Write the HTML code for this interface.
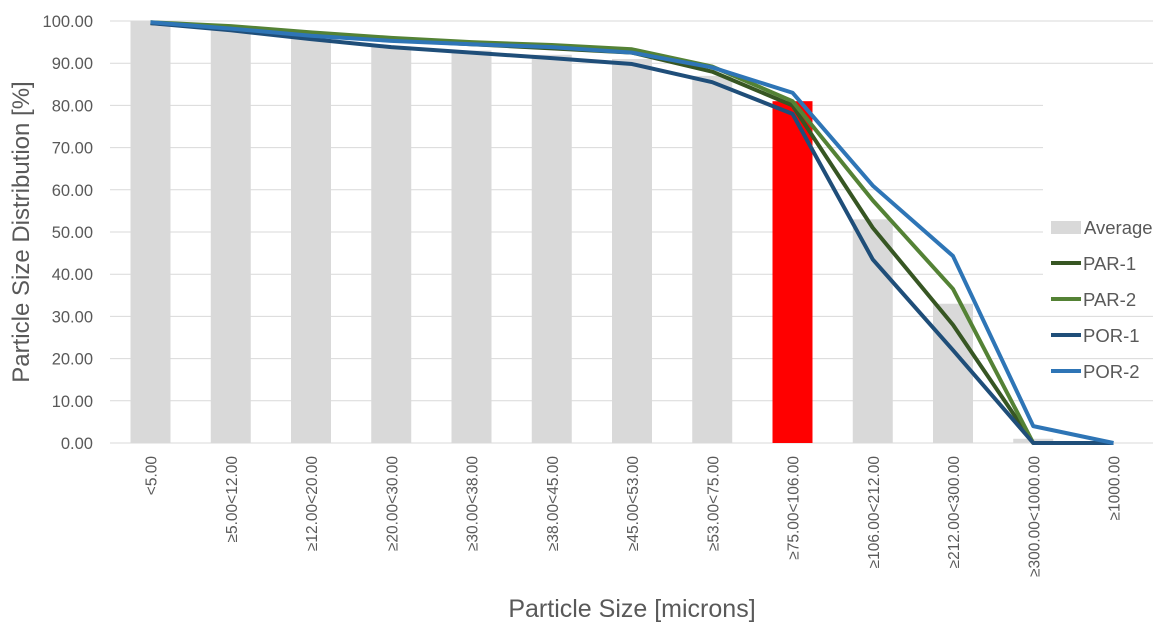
<!DOCTYPE html><html><head><meta charset="utf-8"><style>body{margin:0;background:#fff}</style></head><body>
<svg width="1164" height="623" xmlns="http://www.w3.org/2000/svg" font-family="Liberation Sans, sans-serif" fill="#595959">
</svg>
<script>
const s=document.querySelector('svg'),ns='http://www.w3.org/2000/svg';
function el(t,a,txt){const e=document.createElementNS(ns,t);for(const k in a)e.setAttribute(k,a[k]);if(txt!=null)e.textContent=txt;s.appendChild(e);return e;}
const Y=v=>443-v*4.22, X=i=>150.5+i*80.25;
for(let v=0;v<=100;v+=10){el('line',{x1:110,x2:(v>=40&&v<=80)?1043:1153,y1:Y(v),y2:Y(v),stroke:'#d9d9d9','stroke-width':1});
el('text',{x:93,y:Y(v)+6,'text-anchor':'end','font-size':16.5},v.toFixed(2));}
const avg=[100,98,96,94,93,92,91,87,81,53,33,1,0];
avg.forEach((v,i)=>el('rect',{x:X(i)-20,y:Y(v),width:40,height:v*4.22,fill:i==8?'#ff0000':'#d9d9d9'}));
const ser=[['#375623',[99.5,98.5,97,95.5,94.5,93.5,92.5,88,80,51,28,0,0]],
['#548235',[99.7,98.8,97.3,96,95,94.3,93.3,89.2,81,57.5,36.5,0,0]],
['#1f4e79',[99.5,97.8,95.7,93.8,92.5,91.2,89.8,85.5,78,43.5,22,0,0]],
['#2e75b6',[99.7,98.2,96.5,95.3,94.5,93.8,92.5,89,83,61,44.3,4,0]]];
ser.forEach(([c,d])=>el('polyline',{points:d.map((v,i)=>X(i)+','+Y(v)).join(' '),fill:'none',stroke:c,'stroke-width':4,'stroke-linejoin':'round'}));
const labs=['<5.00','≥5.00<12.00','≥12.00<20.00','≥20.00<30.00','≥30.00<38.00','≥38.00<45.00','≥45.00<53.00','≥53.00<75.00','≥75.00<106.00','≥106.00<212.00','≥212.00<300.00','≥300.00<1000.00','≥1000.00'];
labs.forEach((l,i)=>el('text',{transform:`translate(${X(i)+6},456) rotate(-90)`,'text-anchor':'end','font-size':15.5},l));
el('text',{transform:'translate(29,232) rotate(-90)','text-anchor':'middle','font-size':24},'Particle Size Distribution [%]');
el('text',{x:632,y:617,'text-anchor':'middle','font-size':25},'Particle Size [microns]');
el('rect',{x:1051,y:221,width:30,height:13,fill:'#d9d9d9'});
el('text',{x:1084,y:234,'font-size':18.5},'Average');
['PAR-1','PAR-2','POR-1','POR-2'].forEach((n,i)=>{const y=263+i*36;el('line',{x1:1051,x2:1081,y1:y,y2:y,stroke:ser[i][0],'stroke-width':4});el('text',{x:1083,y:y+7,'font-size':18.5},n);});
</script>
</body></html>
